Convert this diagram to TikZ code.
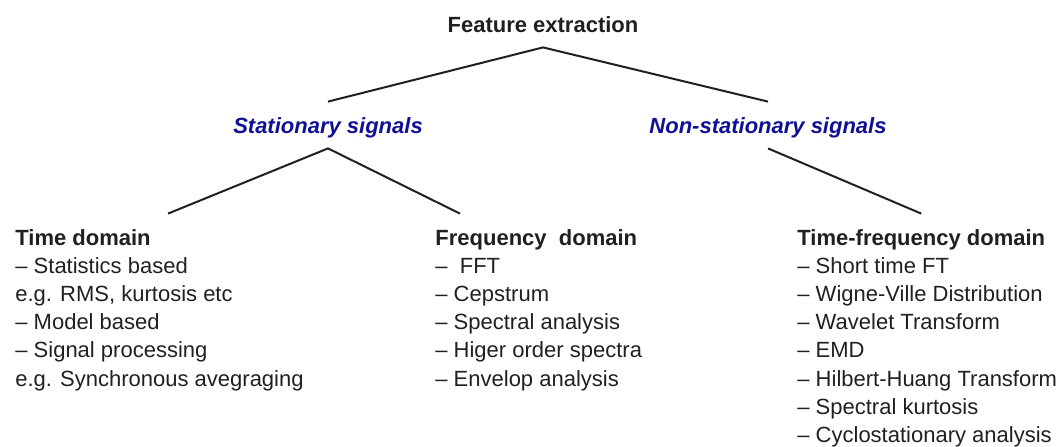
\documentclass[tikz,border=0pt]{standalone}
\usepackage{fontspec}
\setmainfont{Liberation Sans}
\usepackage{xcolor}
\usepackage{tikz}

\definecolor{txtgray}{RGB}{35,31,32}
\definecolor{sigblue}{RGB}{16,16,150}

\begin{document}
\begin{tikzpicture}[x=0.5pt,y=-0.5pt,
     txt/.style={font=\fontsize{11}{13.5}\selectfont,text=txtgray,inner sep=0pt,
                 text height=8pt,text depth=0pt,anchor=west},
     head/.style={txt,font=\fontsize{11}{13.5}\selectfont\bfseries,minimum height=23pt},
     sig/.style={head,text=sigblue,font=\fontsize{11}{13.5}\selectfont\bfseries\itshape,anchor=center},
     branch/.style={draw=txtgray,line width=1pt}
     ]
   \useasboundingbox (0,0) rectangle (1061,446);

   % top of the tree
   \node[head,anchor=center] (fe) at (543,24) {Feature extraction};
   \node[sig] (ss) at (328,125) {Stationary signals};
   \node[sig] (ns) at (768,125) {Non-stationary signals};

   % the three domain headings
   \node[head] (td) at (15,237)  {Time domain};
   \node[head] (fd) at (435,237) {Frequency\ \ domain};
   \node[head] (tf) at (797,237) {Time-frequency domain};

   % list items under each heading, \y = row position
   \foreach \i/\desc [evaluate=\i as \y using (237+28.2*\i)]
      in {1/{– Statistics based},
          2/{e.g. RMS, kurtosis etc},
          3/{– Model based},
          4/{– Signal processing},
          5/{e.g. Synchronous avegraging}}
   {
     \node[txt] (td-\i) at (15,\y) {\desc};
   }

   \foreach \i/\desc [evaluate=\i as \y using (237+28.2*\i)]
      in {1/{–\ \ FFT},
          2/{– Cepstrum},
          3/{– Spectral analysis},
          4/{– Higer order spectra},
          5/{– Envelop analysis}}
   {
     \node[txt] (fd-\i) at (435,\y) {\desc};
   }

   \foreach \i/\desc [evaluate=\i as \y using (237+28.2*\i)]
      in {1/{– Short time FT},
          2/{– Wigne-Ville Distribution},
          3/{– Wavelet Transform},
          4/{– EMD},
          5/{– Hilbert-Huang Transform},
          6/{– Spectral kurtosis},
          7/{– Cyclostationary analysis}}
   {
     \node[txt] (tf-\i) at (797,\y) {\desc};
   }

   \draw[branch] (ss.north) -- (fe.south) -- (ns.north);
   \draw[branch] ([xshift=76.5pt]td.north west) -- (ss.south)
                 -- ([xshift=12.5pt]fd.north west);
   \draw[branch] (ns.south) -- (tf.north);
 \end{tikzpicture}
\end{document}
